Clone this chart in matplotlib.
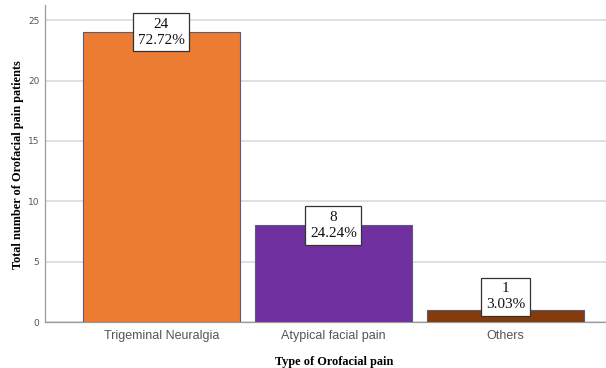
import matplotlib
matplotlib.use("Agg")
import matplotlib.pyplot as plt

categories = ["Trigeminal Neuralgia", "Atypical facial pain", "Others"]
counts = [24, 8, 1]
percents = ["72.72%", "24.24%", "3.03%"]
colors = ["#EC7C31", "#7030A0", "#843C0C"]

fig = plt.figure(figsize=(6.06, 3.68), dpi=100)
ax = fig.add_axes([0.0743, 0.125, 0.9257, 0.861])

x = list(range(len(categories)))
ax.bar(x, counts, width=0.91, color=colors, edgecolor="#5a5a7a", linewidth=0.8, zorder=3)

ax.set_xlim(-0.677, 2.585)
ax.set_ylim(0, 26.25)
ax.set_yticks([0, 5, 10, 15, 20, 25])
ax.yaxis.grid(True, color="#e0e0e0", linewidth=1.4, zorder=0)
ax.set_axisbelow(True)

for s in ["top", "right"]:
    ax.spines[s].set_visible(False)
for s in ["left", "bottom"]:
    ax.spines[s].set_color("#9a9a9a")
    ax.spines[s].set_linewidth(0.9)

ax.tick_params(axis="y", length=0, labelsize=6.5, labelcolor="#555555", pad=4)
ax.tick_params(axis="x", length=0, labelsize=9, labelcolor="#555555", pad=6)
ax.set_xticks(x)
ax.set_xticklabels(categories, family="Liberation Sans")

# value labels in boxes; keep the small bar's box clear of the axis
for xi, c, p in zip(x, counts, percents):
    yc = max(c, 2.1)
    ax.text(xi, yc, f"{c}\n{p}", ha="center", va="center", family="Liberation Serif",
            fontsize=11, linespacing=1.3, color="#111111", zorder=5,
            bbox=dict(boxstyle="square,pad=0.3", facecolor="white",
                      edgecolor="#333333", linewidth=0.9))

fig.text(0.03, 0.552, "Total number of Orofacial pain patients", rotation=90,
         ha="center", va="center", family="Liberation Serif", fontweight="bold", fontsize=8.8)
fig.text(0.551, 0.016, "Type of Orofacial pain", ha="center", va="center",
         family="Liberation Serif", fontweight="bold", fontsize=8.8)

fig.savefig("out.png", dpi=100)
